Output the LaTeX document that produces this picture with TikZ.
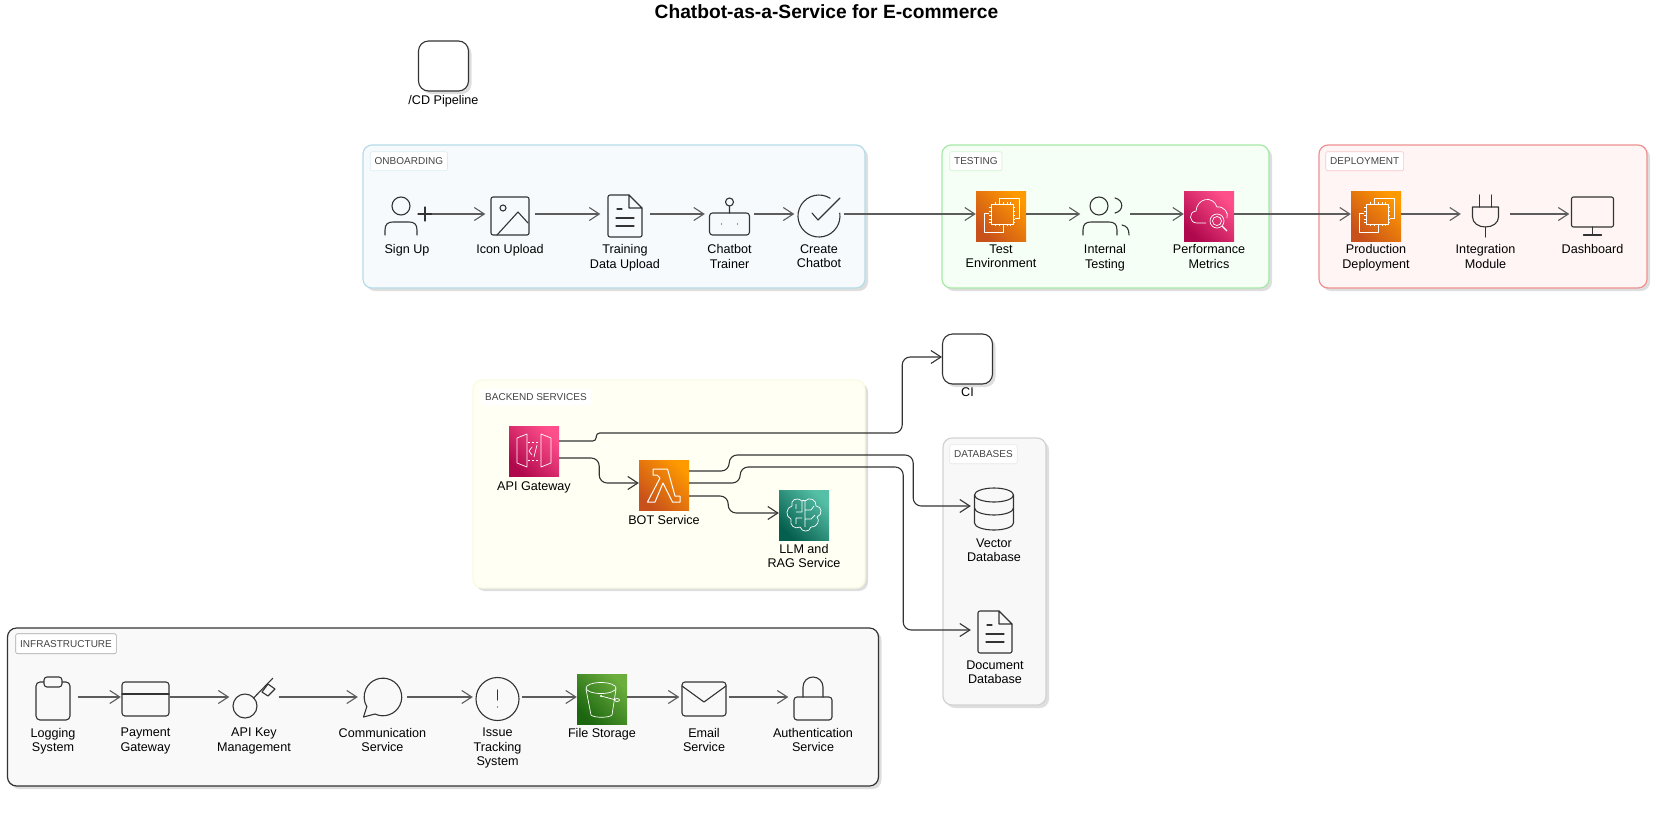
\documentclass[tikz,border=0pt]{standalone}
\usepackage{fontspec}
\setmainfont{Liberation Sans}
\usepackage{xcolor}
\usetikzlibrary{arrows.meta,positioning,shadows}
\definecolor{ink}{HTML}{333333}
\definecolor{tagink}{HTML}{444444}
\definecolor{onbfill}{HTML}{F6FAFD}
\definecolor{onbline}{HTML}{B5DCE8}
\definecolor{tstfill}{HTML}{F6FFF6}
\definecolor{tstline}{HTML}{A6E8A6}
\definecolor{depfill}{HTML}{FFF5F5}
\definecolor{depline}{HTML}{EE9090}
\definecolor{bckfill}{HTML}{FFFFF3}
\definecolor{bckline}{HTML}{FAFAE2}
\definecolor{dbsfill}{HTML}{F8F8F8}
\definecolor{dbsline}{HTML}{D2D2D2}
\definecolor{inffill}{HTML}{F9F9F9}
\definecolor{orangelow}{HTML}{C8511B}
\definecolor{orangehigh}{HTML}{FF9900}
\definecolor{pinklow}{HTML}{B0084D}
\definecolor{pinkhigh}{HTML}{FF4F8B}
\definecolor{teallow}{HTML}{055F4E}
\definecolor{tealhigh}{HTML}{56C0A7}
\definecolor{greenlow}{HTML}{1B660F}
\definecolor{greenhigh}{HTML}{6CAE3E}
\tikzset{
  ico/.style={draw=ink,line width=1.1pt,line join=round,line cap=round},
  glyph/.style={draw=white,line width=.7pt,line join=round},
  pics/usericon/.style={code={
    \draw[ico] (-6,-10) circle[radius=9pt];
    \draw[ico] (-22,19) -- (-22,14) .. controls (-22,8) and (-19,6) .. (-14,6) -- (2,6) .. controls (7,6) and (10,8) .. (10,14) -- (10,19);
    \draw[ico] (11,-2) -- (25,-2) (18,-9) -- (18,5);
  }},
  pics/imageicon/.style={code={
    \draw[ico,rounded corners=2pt] (-19,-19) rectangle (19,19);
    \draw[ico] (-7,-8) circle[radius=3pt];
    \draw[ico] (-13,19) -- (8,-4) -- (18,7);
  }},
  pics/docicon/.style={code={
    \draw[ico,rounded corners=2pt] (4,-21) -- (-17,-21) -- (-17,21) -- (17,21) -- (17,-8);
    \draw[ico] (4,-21) -- (17,-8) -- (4,-8) -- cycle;
    \draw[ico] (-8,-7) -- (-3,-7) (-9,2) -- (9,2) (-9,10) -- (9,10);
  }},
  pics/boticon/.style={code={
    \draw[ico,rounded corners=3pt] (-20,-3) rectangle (20,19);
    \draw[ico] (0,-14) circle[radius=4pt] (0,-10) -- (0,-3);
    \fill[ink] (-8,8) circle[radius=.6pt] (8,8) circle[radius=.6pt];
  }},
  pics/checkicon/.style={code={
    \draw[ico] (11.1,-17.8) arc[start angle=58,end angle=368,radius=21pt];
    \draw[ico] (-7,-3) -- (-1,4) -- (21,-18);
  }},
  pics/usersicon/.style={code={
    \draw[ico] (-6,-10) circle[radius=9pt];
    \draw[ico] (10,-18) .. controls (19,-16) and (19,-5) .. (10,-3);
    \draw[ico] (-22,19) -- (-22,14) .. controls (-22,8) and (-19,6) .. (-14,6) -- (4,6) .. controls (9,6) and (12,8) .. (12,14) -- (12,19);
    \draw[ico] (17,9) .. controls (22,10) and (24,13) .. (24,19);
  }},
  pics/plugicon/.style={code={
    \draw[ico] (-6,-21) -- (-6,-9) (6,-21) -- (6,-9);
    \draw[ico] (-13,-9) -- (13,-9) -- (13,1) .. controls (13,7) and (7,11) .. (0,11) .. controls (-7,11) and (-13,7) .. (-13,1) -- cycle;
    \draw[ico] (0,11) -- (0,21);
  }},
  pics/screenicon/.style={code={
    \draw[ico,rounded corners=2pt] (-21,-19) rectangle (21,11);
    \draw[ico] (0,11) -- (0,19) (-9,19) -- (9,19);
  }},
  pics/dbicon/.style={code={
    \draw[ico] (0,-13) ellipse[x radius=19.5pt,y radius=7pt];
    \draw[ico] (-19.5,-13) -- (-19.5,15) arc[start angle=180,end angle=360,x radius=19.5pt,y radius=7pt] -- (19.5,-13);
    \draw[ico] (-19.5,0) arc[start angle=180,end angle=360,x radius=19.5pt,y radius=7pt];
  }},
  pics/clipicon/.style={code={
    \draw[ico,rounded corners=4pt] (-17,-17) rectangle (17,21);
    \draw[ico,fill=inffill,rounded corners=3pt] (-9,-22) rectangle (9,-12);
  }},
  pics/cardicon/.style={code={
    \draw[ico,rounded corners=3pt] (-23.5,-17) rectangle (23.5,17);
    \draw[ico] (-23.5,-5) -- (23.5,-5);
  }},
  pics/keyicon/.style={code={
    \draw[ico] (-9,7) circle[radius=12pt];
    \draw[ico] (-.7,-.7) -- (18.7,-20.7);
    \draw[ico] (8,-7) -- (14,-15) -- (21,-10) -- (14,-3) -- cycle;
  }},
  pics/bubbleicon/.style={code={
    \draw[ico] (-7.5,15) arc[start angle=245,end angle=571,radius=18.8pt] -- (-19,18) -- cycle;
  }},
  pics/alerticon/.style={code={
    \draw[ico] (0,0) circle[radius=21.5pt];
    \draw[ico] (0,-9) -- (0,1);
    \fill[ink] (0,8) circle[radius=.6pt];
  }},
  pics/mailicon/.style={code={
    \draw[ico,rounded corners=3pt] (-22,-17) rectangle (22,17);
    \draw[ico] (-22,-13) -- (0,3) -- (22,-13);
  }},
  pics/lockicon/.style={code={
    \draw[ico,rounded corners=3pt] (-19,-2) rectangle (19,21);
    \draw[ico] (-10,-2) -- (-10,-12) arc[start angle=180,end angle=0,radius=10pt] -- (10,-2);
  }},
  pics/chipglyph/.style={code={
    \draw[glyph] (-10,-12) rectangle (12,8);
    \draw[glyph] (-1.5,-14) -- (-1.5,-18) -- (18,-18) -- (18,2) -- (14,2);
    \draw[glyph] (-12,-3) -- (-16.5,-3) -- (-16.5,16) -- (2,16) -- (2,10);
    \draw[glyph,line width=.5pt] (-6,-14) -- (-6,-12) (-2,-14) -- (-2,-12) (2,-14) -- (2,-12) (6,-14) -- (6,-12) (9,-14) -- (9,-12)
      (-6,8) -- (-6,10) (-2,8) -- (-2,10) (2,8) -- (2,10) (6,8) -- (6,10) (9,8) -- (9,10)
      (-12,-9) -- (-10,-9) (-12,-5) -- (-10,-5) (-12,-1) -- (-10,-1) (-12,3) -- (-10,3) (-12,6) -- (-10,6)
      (12,-9) -- (14,-9) (12,-5) -- (14,-5) (12,-1) -- (14,-1) (12,3) -- (14,3) (12,6) -- (14,6);
  }},
  pics/cloudglyph/.style={code={
    \draw[glyph] (-3,7) -- (-12,7) .. controls (-20,7) and (-21,-4) .. (-13,-5) .. controls (-12,-18) and (4,-21) .. (8,-9) .. controls (15,-10) and (20,-3) .. (18,2);
    \draw[glyph] (8,5) circle[radius=7pt] (8,5) circle[radius=4.5pt];
    \draw[glyph,line width=1.2pt] (13,10) -- (18,15);
  }},
  pics/gateglyph/.style={code={
    \draw[glyph] (-17,-13) -- (-7,-17) -- (-7,16) -- (-17,12) -- cycle;
    \draw[glyph] (7,-17) -- (17,-13) -- (17,12) -- (7,16) -- cycle;
    \draw[glyph,dashed,dash pattern=on 2pt off 2pt] (-6,-9) -- (6,-9) (-6,9) -- (6,9);
    \draw[glyph] (-2,-4) -- (-5,0) -- (-2,4) (3,-6) -- (0,6);
  }},
  pics/lambdaglyph/.style={code={
    \draw[glyph,line width=1pt] (-11,-16) -- (3.5,-16) -- (11,11) -- (16,11) -- (16,17) -- (8.5,17) -- (-1,-2) -- (-9,17) -- (-16.5,17) -- (-4,-7) -- (-7,-10) -- (-11,-10) -- cycle;
  }},
  pics/brainglyph/.style={code={
    \draw[glyph] (-2,-14) .. controls (-8,-19) and (-14,-14) .. (-12,-9) .. controls (-18,-8) and (-19,2) .. (-13,4) .. controls (-15,10) and (-9,15) .. (-4,12) .. controls (-2,17) and (5,18) .. (7,12) .. controls (14,12) and (16,5) .. (13,2) .. controls (19,0) and (18,-9) .. (12,-9) .. controls (13,-15) and (5,-19) .. (1,-14) .. controls (0,-15) and (-1,-15) .. (-2,-14);
    \draw[glyph] (-2,-14) -- (-2,-3) -- (-8,-3) (-8,-11) -- (-8,-6) (-2,3) -- (-8,3) -- (-8,9) (1,-14) -- (1,12) (1,-5) -- (7,-5) -- (10,-9) (1,4) -- (7,4) -- (11,0);
  }},
  pics/bucketglyph/.style={code={
    \draw[glyph] (-1,-11) ellipse[x radius=15pt,y radius=5.5pt];
    \draw[glyph] (-16,-10) -- (-11,16) .. controls (-8,19) and (7,19) .. (10,16) -- (14,-10);
    \draw[glyph] (-1,-3) -- (14,1);
    \draw[glyph] (15,1) ellipse[x radius=2.5pt,y radius=1.5pt];
    \fill[white] (-1,-3) circle[radius=1.2pt];
  }}
}
\begin{document}
\begin{tikzpicture}[x=1pt,y=-1pt,font=\fontsize{12.6}{14.3}\selectfont,
   grp/.style={rounded corners=9pt,line width=1.2pt,inner sep=0pt,drop shadow={shadow xshift=3pt,shadow yshift=-3pt,fill=black,opacity=.13}},
   tag/.style={font=\fontsize{10}{12}\selectfont,text=tagink,fill=white,rounded corners=2pt,line width=.6pt,inner xsep=4.5pt,inner ysep=0pt,minimum height=19pt,anchor=north west},
   ic/.style={minimum size=49pt,inner sep=0pt},
   aws/.style 2 args={minimum size=50pt,inner sep=0pt,bottom color=#1,top color=#2,shading angle=-45},
   sq/.style={minimum size=50pt,inner sep=0pt,draw=ink,line width=1.1pt,fill=white,rounded corners=10pt,drop shadow={shadow xshift=3pt,shadow yshift=-3pt,fill=black,opacity=.13}},
   lab/.style={align=center,inner sep=0pt,text=black},
   arr/.style={-{Straight Barb[length=10pt,width=13pt]},draw=ink!80,line width=1.1pt},
   elbow/.style={arr,draw=ink,rounded corners=8pt}]
  \useasboundingbox (0,0) rectangle (1668,812);
  \node[font=\bfseries\fontsize{19.2}{24}\selectfont] (title) at (826.5,12) {Chatbot-as-a-Service for E-commerce};

  \node[sq] (cicd) at (443.5,66) {};
  \node[lab,below=4pt of cicd] (cicdl) {/CD Pipeline};
  \node[sq] (ci) at (967.5,359) {};
  \node[lab,below=3pt of ci] (cil) {CI};

  % containers
  \node[grp,draw=onbline,fill=onbfill,minimum width=502pt,minimum height=143pt] (onb) at (614,216.5) {};
  \node[tag,draw=onbline!50] (onbt) at ([xshift=7.5pt,yshift=-7pt]onb.north west) {ONBOARDING};
  \node[grp,draw=tstline,fill=tstfill,minimum width=327pt,minimum height=143pt] (tst) at (1105.5,216.5) {};
  \node[tag,draw=tstline!50] (tstt) at ([xshift=8pt,yshift=-7pt]tst.north west) {TESTING};
  \node[grp,draw=depline,fill=depfill,minimum width=328pt,minimum height=143pt] (dep) at (1483,216.5) {};
  \node[tag,draw=depline!50] (dept) at ([xshift=7pt,yshift=-7pt]dep.north west) {DEPLOYMENT};
  \node[grp,draw=bckline,fill=bckfill,minimum width=392pt,minimum height=208pt] (bck) at (669,484) {};
  \node[tag,minimum height=17pt] (bckt) at ([xshift=8pt,yshift=-9pt]bck.north west) {BACKEND SERVICES};
  \node[grp,draw=dbsline,fill=dbsfill,minimum width=103pt,minimum height=267pt] (dbs) at (994.5,571.5) {};
  \node[tag,draw=dbsline!50] (dbst) at ([xshift=7pt,yshift=-7pt]dbs.north west) {DATABASES};
  \node[grp,draw=ink,fill=inffill,minimum width=871pt,minimum height=158pt] (inf) at (443,707) {};
  \node[tag,draw=gray!70,minimum height=20pt] (inft) at ([xshift=8.5pt,yshift=-6pt]inf.north west) {INFRASTRUCTURE};

  % onboarding row
  \node[ic] (signup) at (407,216) {};
  \pic at (signup) {usericon};
  \node[lab,below=3.8pt of signup] (signupl) {Sign Up};
  \node[ic] (icon) at (510,216) {};
  \pic at (icon) {imageicon};
  \node[lab,below=3.8pt of icon] (iconl) {Icon Upload};
  \node[ic] (train) at (625,216) {};
  \pic at (train) {docicon};
  \node[lab,below=3.8pt of train] (trainl) {Training\\Data Upload};
  \node[ic] (trainer) at (729.5,216) {};
  \pic at (trainer) {boticon};
  \node[lab,below=3.8pt of trainer] (trainerl) {Chatbot\\Trainer};
  \node[ic] (create) at (819,216) {};
  \pic at (create) {checkicon};
  \node[lab,below=3.8pt of create] (createl) {Create\\Chatbot};

  % testing row
  \node[aws={orangelow}{orangehigh}] (env) at (1001,216) {};
  \pic at (env) {chipglyph};
  \node[lab,below=3.3pt of env] (envl) {Test\\Environment};
  \node[ic] (internal) at (1105,216) {};
  \pic at (internal) {usersicon};
  \node[lab,below=3.8pt of internal] (internall) {Internal\\Testing};
  \node[aws={pinklow}{pinkhigh}] (perf) at (1209,216) {};
  \pic at (perf) {cloudglyph};
  \node[lab,below=3.3pt of perf] (perfl) {Performance\\Metrics};

  % deployment row
  \node[aws={orangelow}{orangehigh}] (prod) at (1376,216) {};
  \pic at (prod) {chipglyph};
  \node[lab,below=3.3pt of prod] (prodl) {Production\\Deployment};
  \node[ic] (plug) at (1485.5,216) {};
  \pic at (plug) {plugicon};
  \node[lab,below=3.8pt of plug] (plugl) {Integration\\Module};
  \node[ic,minimum size=46pt] (dash) at (1592.5,216) {};
  \pic at (dash) {screenicon};
  \node[lab,below=5.3pt of dash] (dashl) {Dashboard};

  % backend
  \node[aws={pinklow}{pinkhigh}] (api) at (534,451) {};
  \pic at (api) {gateglyph};
  \node[lab,below=5pt of api] (apil) {API Gateway};
  \node[aws={orangelow}{orangehigh}] (bot) at (664,485) {};
  \pic at (bot) {lambdaglyph};
  \node[lab,below=4.5pt of bot] (botl) {BOT Service};
  \node[aws={teallow}{tealhigh}] (llm) at (804,515) {};
  \pic at (llm) {brainglyph};
  \node[lab,below=3.5pt of llm] (llml) {LLM and\\RAG Service};

  % databases
  \node[ic,minimum size=46pt] (vec) at (994,508) {};
  \pic at (vec) {dbicon};
  \node[lab,below=7pt of vec] (vecl) {Vector\\Database};
  \node[ic,minimum size=48pt] (docdb) at (995,632) {};
  \pic at (docdb) {docicon};
  \node[lab,below=4.5pt of docdb] (docdbl) {Document\\Database};

  % infrastructure row
  \node[ic] (log) at (53,699) {};
  \pic at (log) {clipicon};
  \node[lab,below=4.3pt of log] (logl) {Logging\\System};
  \node[ic] (pay) at (145.5,699) {};
  \pic at (pay) {cardicon};
  \node[lab,below=4.3pt of pay] (payl) {Payment\\Gateway};
  \node[ic] (key) at (254,699) {};
  \pic at (key) {keyicon};
  \node[lab,below=4.3pt of key] (keyl) {API Key\\Management};
  \node[ic] (comm) at (382.5,699) {};
  \pic at (comm) {bubbleicon};
  \node[lab,below=4.3pt of comm] (comml) {Communication\\Service};
  \node[ic] (issue) at (497.5,699) {};
  \pic at (issue) {alerticon};
  \node[lab,below=4.3pt of issue] (issuel) {Issue\\Tracking\\System};
  \node[aws={greenlow}{greenhigh}] (file) at (602,699) {};
  \pic at (file) {bucketglyph};
  \node[lab,below=4pt of file] (filel) {File Storage};
  \node[ic] (mail) at (704,699) {};
  \pic at (mail) {mailicon};
  \node[lab,below=4.3pt of mail] (maill) {Email\\Service};
  \node[ic] (auth) at (813,699) {};
  \pic at (auth) {lockicon};
  \node[lab,below=4.3pt of auth] (authl) {Authentication\\Service};

  % connectors
  \draw[arr] ([yshift=2pt]signup.east) -- ([yshift=2pt]icon.west);
  \draw[arr] ([yshift=2pt]icon.east) -- ([yshift=2pt]train.west);
  \draw[arr] ([yshift=2pt]train.east) -- ([yshift=2pt]trainer.west);
  \draw[arr] ([yshift=2pt]trainer.east) -- ([yshift=2pt]create.west);
  \draw[arr] ([yshift=2pt]create.east) -- ([yshift=2pt]env.west);
  \draw[arr] ([yshift=2pt]env.east) -- ([yshift=2pt]internal.west);
  \draw[arr] ([yshift=2pt]internal.east) -- ([yshift=2pt]perf.west);
  \draw[arr] ([yshift=2pt]perf.east) -- ([yshift=2pt]prod.west);
  \draw[arr] ([yshift=2pt]prod.east) -- ([yshift=2pt]plug.west);
  \draw[arr] ([yshift=2pt]plug.east) -- ([yshift=2pt]dash.west);
  \draw[arr] ([yshift=2pt]log.east) -- ([yshift=2pt]pay.west);
  \draw[arr] ([yshift=2pt]pay.east) -- ([yshift=2pt]key.west);
  \draw[arr] ([yshift=2pt]key.east) -- ([yshift=2pt]comm.west);
  \draw[arr] ([yshift=2pt]comm.east) -- ([yshift=2pt]issue.west);
  \draw[arr] ([yshift=2pt]issue.east) -- ([yshift=2pt]file.west);
  \draw[arr] ([yshift=2pt]file.east) -- ([yshift=2pt]mail.west);
  \draw[arr] ([yshift=2pt]mail.east) -- ([yshift=2pt]auth.west);
  \draw[elbow,rounded corners=3.5pt] ([yshift=10pt]api.east) -- ++(37,0) -- ++(0,-8) [rounded corners=8pt] -- ++(306,0) -- ++(0,-76) -- ([yshift=2pt]ci.west);
  \draw[elbow] ([yshift=-7pt]api.east) -- ++(40,0) -- ++(0,25) -- ([yshift=2pt]bot.west);
  \draw[elbow] ([yshift=14pt]bot.east) -- ++(40,0) -- ++(0,-16) -- ++(184,0) -- ++(0,51) -- ([yshift=2pt]vec.west);
  \draw[elbow] ([yshift=2pt]bot.east) -- ++(51,0) -- ++(0,-16) -- ++(163,0) -- ++(0,163) -- ([yshift=2pt]docdb.west);
  \draw[elbow] ([yshift=-11pt]bot.east) -- ++(39,0) -- ++(0,17) -- ([yshift=2pt]llm.west);
\end{tikzpicture}
\end{document}
